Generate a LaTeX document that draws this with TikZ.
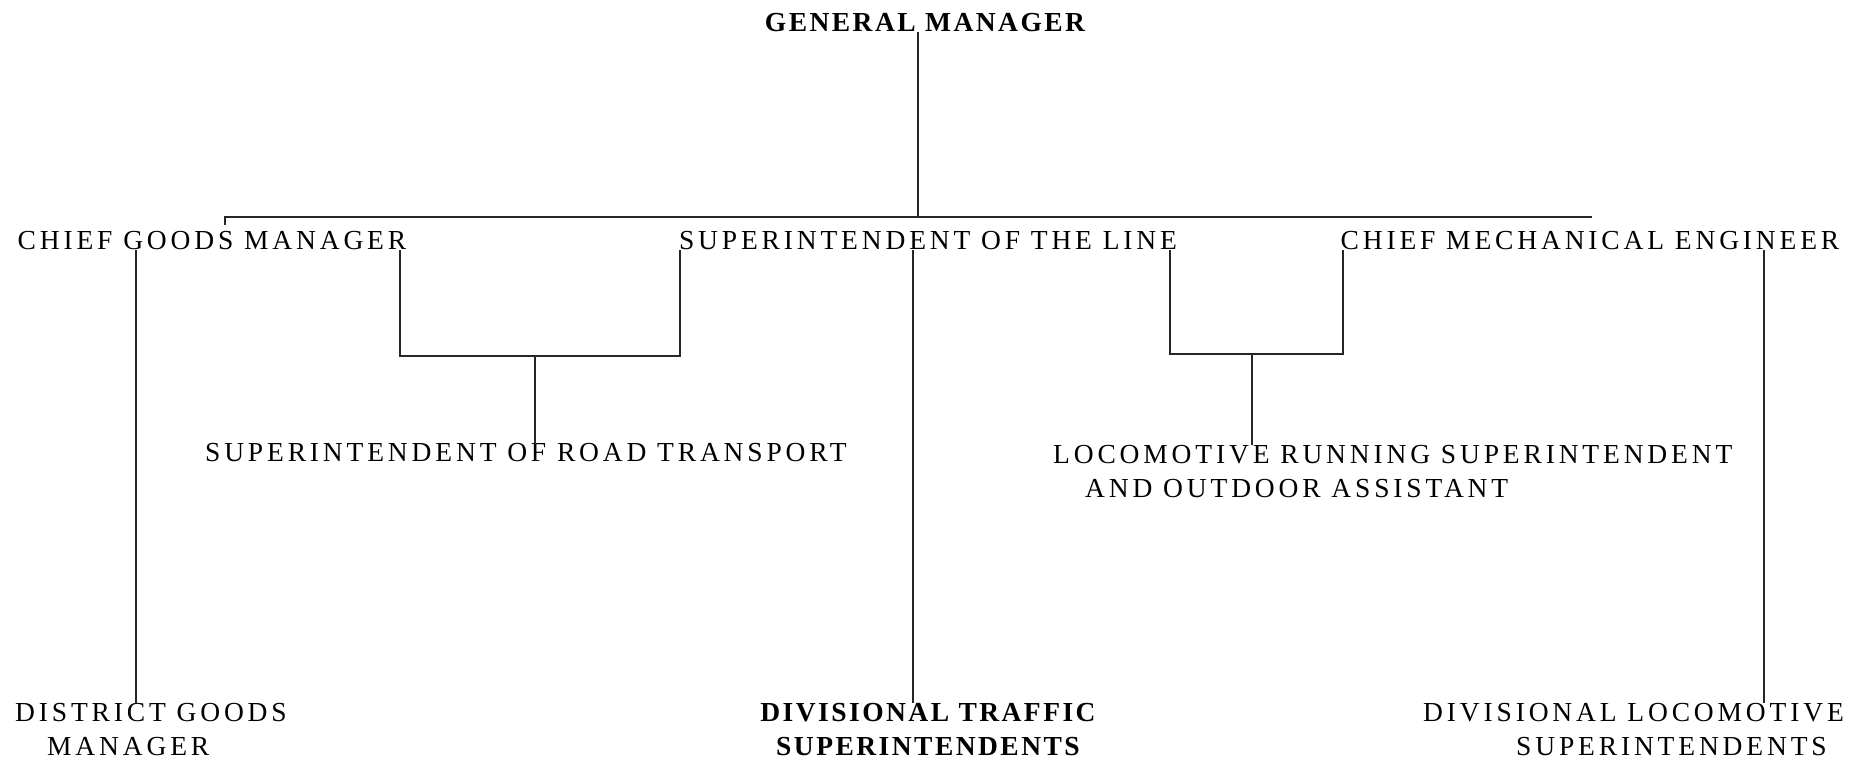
\documentclass[tikz,border=0pt]{standalone}
\usepackage{fontspec}
\setmainfont{Liberation Serif}[LetterSpace=14]
\newfontfamily\gmfont{Liberation Serif}[LetterSpace=9]
\begin{document}
\begin{tikzpicture}[x=1pt,y=-1pt]
\tikzset{
  lab/.style={inner sep=0pt, font=\fontsize{27.5}{34}\selectfont},
  labb/.style={inner sep=0pt, font=\fontsize{27.5}{34}\selectfont\gmfont\bfseries},
  conn/.style={line width=1.8pt, draw=black!85}
}
\useasboundingbox (0,0) rectangle (1859,764);
% nodes
\node[labb] (gm) at (925,23) {GENERAL MANAGER};
\node[lab] (cgm) at (212,241) {CHIEF GOODS MANAGER};
\node[lab] (sotl) at (928,241) {SUPERINTENDENT OF THE LINE};
\node[lab] (cme) at (1590,241) {CHIEF MECHANICAL ENGINEER};
\node[lab] (sort) at (526,453) {SUPERINTENDENT OF ROAD TRANSPORT};
\node[lab, align=left, anchor=north west] (lrs) at (1053,445)
  {LOCOMOTIVE RUNNING SUPERINTENDENT\\\hspace*{32pt}AND OUTDOOR ASSISTANT};
\node[lab, align=left, anchor=north west] (dgm) at (15,703)
  {DISTRICT GOODS\\\hspace*{32pt}MANAGER};
\node[labb, align=center, anchor=north] (dts) at (928,703)
  {DIVISIONAL TRAFFIC\\SUPERINTENDENTS};
\node[lab, align=left, anchor=north west] (dls) at (1423,703)
  {DIVISIONAL LOCOMOTIVE\\\hspace*{93pt}SUPERINTENDENTS};
% helper coordinates
\coordinate (jgm) at (918,217);
\coordinate (barL) at (225,217);
\coordinate (barR) at (1592,217);
\coordinate (tickL) at (225,225);
\coordinate (xa) at (136,0);
\coordinate (xb1) at (400,0);
\coordinate (xb2) at (680,0);
\coordinate (xbm) at (535,0);
\coordinate (yb) at (0,356);
\coordinate (xs) at (913,0);
\coordinate (xc1) at (1170,0);
\coordinate (xc2) at (1343,0);
\coordinate (xcm) at (1252,0);
\coordinate (yc) at (0,354);
\coordinate (xd) at (1764,0);
% connectors
\draw[conn] (gm.south -| jgm) -- (jgm);
\draw[conn] (tickL) -- (barL) -- (barR);
\draw[conn] (cgm.south -| xa) -- (dgm.north -| xa);
\draw[conn] (cgm.south -| xb1) -- (xb1 |- yb) -- (xb2 |- yb) -- (sotl.south -| xb2);
\draw[conn] (xbm |- yb) -- (sort.north -| xbm);
\draw[conn] (sotl.south -| xs) -- (dts.north -| xs);
\draw[conn] (sotl.south -| xc1) -- (xc1 |- yc) -- (xc2 |- yc) -- (cme.south -| xc2);
\draw[conn] (xcm |- yc) -- (lrs.north -| xcm);
\draw[conn] (cme.south -| xd) -- (dls.north -| xd);
\end{tikzpicture}
\end{document}
